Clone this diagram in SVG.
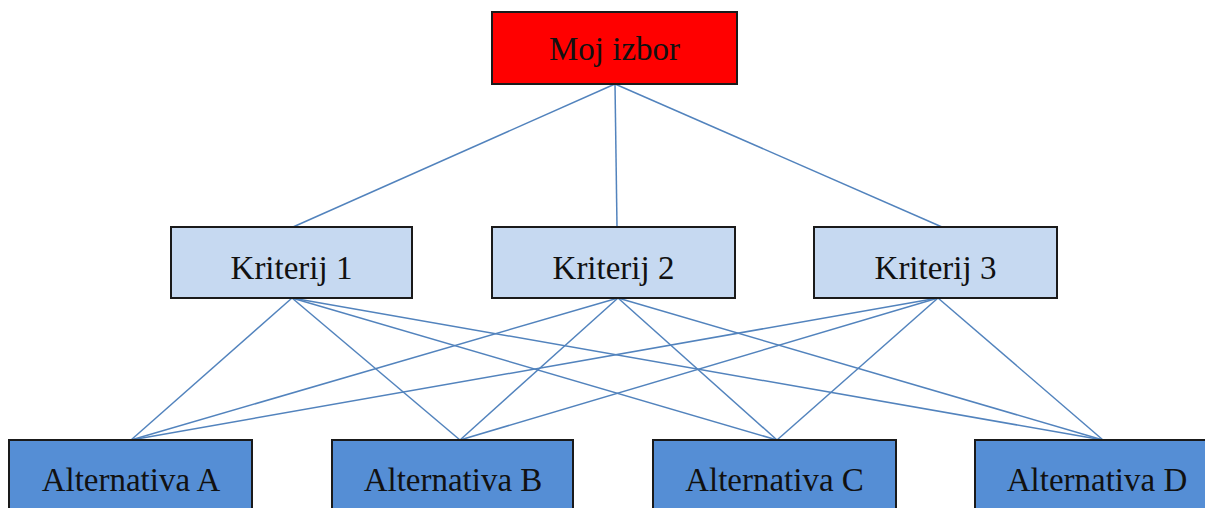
<svg xmlns="http://www.w3.org/2000/svg" width="1205" height="508" viewBox="0 0 1205 508">
<style>
.box{stroke:#1a1a1a;stroke-width:2}
.goal{fill:#ff0000}
.crit{fill:#c6d9f1}
.alt{fill:#558ed5}
.lbl{font-family:"Liberation Serif","Times New Roman",serif;font-size:33px;fill:#111;text-anchor:middle}
.edge{stroke:#5283bd;stroke-width:1.5;fill:none}
</style>
<rect width="1205" height="508" fill="#ffffff"/>
<g id="connectors">
<line class="edge" x1="615" y1="84" x2="293" y2="227"/>
<line class="edge" x1="615" y1="84" x2="617" y2="227"/>
<line class="edge" x1="615" y1="84" x2="942" y2="227"/>
<line class="edge" x1="292" y1="298" x2="131" y2="440"/>
<line class="edge" x1="292" y1="298" x2="460" y2="440"/>
<line class="edge" x1="292" y1="298" x2="777" y2="440"/>
<line class="edge" x1="292" y1="298" x2="1103" y2="440"/>
<line class="edge" x1="618" y1="298" x2="131" y2="440"/>
<line class="edge" x1="618" y1="298" x2="460" y2="440"/>
<line class="edge" x1="618" y1="298" x2="777" y2="440"/>
<line class="edge" x1="618" y1="298" x2="1103" y2="440"/>
<line class="edge" x1="938" y1="298" x2="131" y2="440"/>
<line class="edge" x1="938" y1="298" x2="460" y2="440"/>
<line class="edge" x1="938" y1="298" x2="777" y2="440"/>
<line class="edge" x1="938" y1="298" x2="1103" y2="440"/>
</g>
<g id="goal">
<rect class="box goal" x="492" y="12" width="245" height="72"/>
<text class="lbl" x="614.5" y="60">Moj izbor</text>
</g>
<g id="k1">
<rect class="box crit" x="171" y="227" width="241" height="71"/>
<text class="lbl" x="291.5" y="279">Kriterij 1</text>
</g>
<g id="k2">
<rect class="box crit" x="492" y="227" width="243" height="71"/>
<text class="lbl" x="613.5" y="279">Kriterij 2</text>
</g>
<g id="k3">
<rect class="box crit" x="814" y="227" width="243" height="71"/>
<text class="lbl" x="935.5" y="279">Kriterij 3</text>
</g>
<g id="altA">
<rect class="box alt" x="9" y="440" width="243" height="80"/>
<text class="lbl" x="131" y="491">Alternativa A</text>
</g>
<g id="altB">
<rect class="box alt" x="332" y="440" width="241" height="80"/>
<text class="lbl" x="453" y="491">Alternativa B</text>
</g>
<g id="altC">
<rect class="box alt" x="653" y="440" width="243" height="80"/>
<text class="lbl" x="774.5" y="491">Alternativa C</text>
</g>
<g id="altD">
<rect class="box alt" x="975" y="440" width="243" height="80"/>
<text class="lbl" x="1097" y="491">Alternativa D</text>
</g>
</svg>
